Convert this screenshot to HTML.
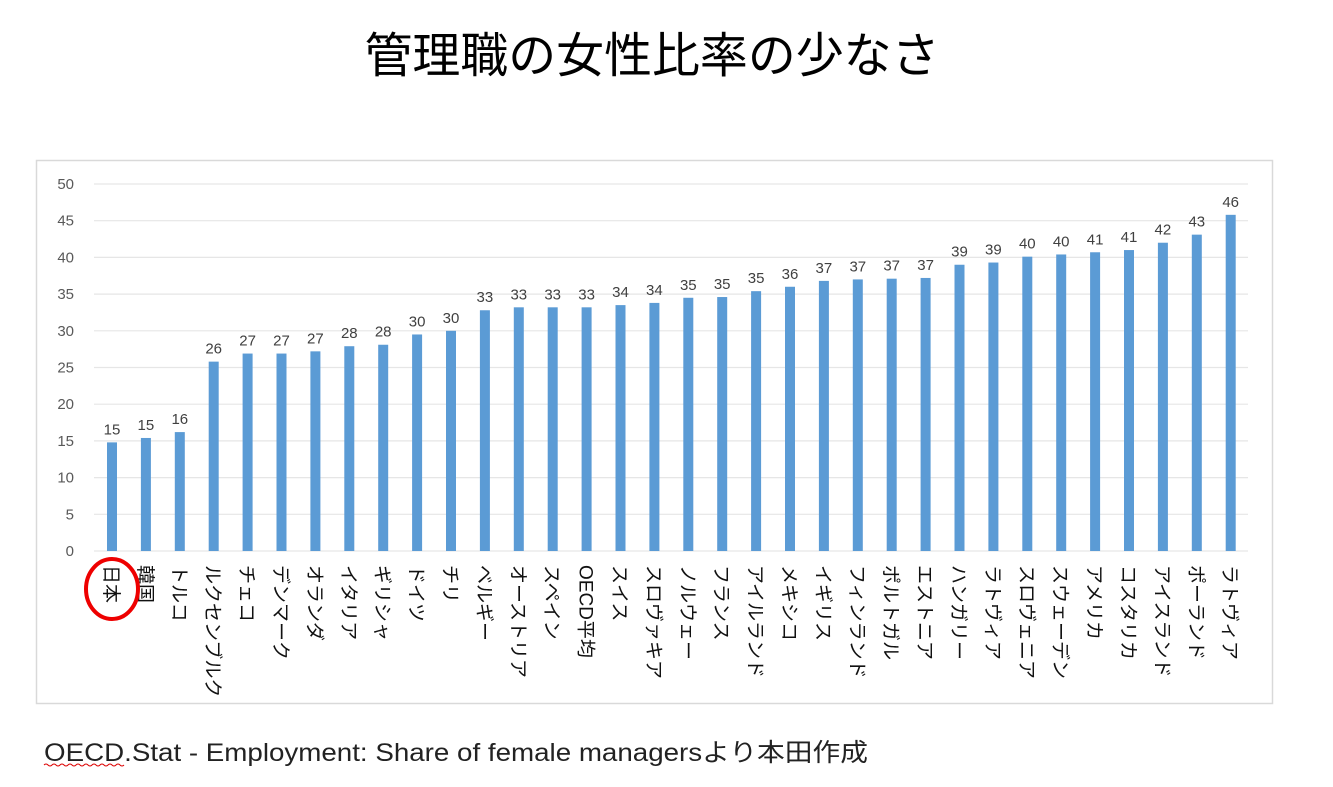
<!DOCTYPE html>
<html><head><meta charset="utf-8"><style>
body{margin:0;width:1333px;height:782px;background:#fff;overflow:hidden;font-family:"Liberation Sans","Noto Sans CJK JP",sans-serif;}
</style></head><body>
<svg width="1333" height="782" xmlns="http://www.w3.org/2000/svg" font-family="Liberation Sans, Noto Sans CJK JP, sans-serif">
<text x="652" y="72" font-size="48" text-anchor="middle" fill="#000" textLength="575" lengthAdjust="spacingAndGlyphs">管理職の女性比率の少なさ</text>
<rect x="36.5" y="160.5" width="1236" height="543" fill="#fff" stroke="#d9d9d9" stroke-width="1.5"/>
<g id="grid" stroke="#e6e6e6" stroke-width="1.2"></g>
<g id="ylab" font-size="15" fill="#595959" text-anchor="end"></g>
<g id="bars"></g>
<text x="44" y="761" font-size="25" fill="#222" textLength="824" lengthAdjust="spacingAndGlyphs">OECD.Stat - Employment: Share of female managersより本田作成</text>
<path d="M44 765 q2 -2 4 0 t4 0 t4 0 t4 0 t4 0 t4 0 t4 0 t4 0 t4 0 t4 0 t4 0 t4 0 t4 0 t4 0 t4 0 t4 0 t4 0 t4 0 t4 0 t4 0" stroke="#d00" fill="none" stroke-width="1"/>
<ellipse cx="112" cy="589" rx="26" ry="30" fill="none" stroke="#e00" stroke-width="4"/>
</svg>
<script>
const names=["日本","韓国","トルコ","ルクセンブルク","チェコ","デンマーク","オランダ","イタリア","ギリシャ","ドイツ","チリ","ベルギー","オーストリア","スペイン","OECD平均","スイス","スロヴァキア","ノルウェー","フランス","アイルランド","メキシコ","イギリス","フィンランド","ポルトガル","エストニア","ハンガリー","ラトヴィア","スロヴェニア","スウェーデン","アメリカ","コスタリカ","アイスランド","ポーランド","ラトヴィア"];
const vals=[14.8,15.4,16.2,25.8,26.9,26.9,27.2,27.9,28.1,29.5,30.0,32.8,33.2,33.2,33.2,33.5,33.8,34.5,34.6,35.4,36.0,36.8,37.0,37.1,37.2,39.0,39.3,40.1,40.4,40.7,41.0,42.0,43.1,45.8];
const ns="http://www.w3.org/2000/svg";
function el(t,a,p,txt){const e=document.createElementNS(ns,t);for(const k in a)e.setAttribute(k,a[k]);if(txt!==undefined)e.textContent=txt;document.getElementById(p).appendChild(e);return e;}
const y0=551,k=7.34;
for(let v=0;v<=50;v+=5){const y=y0-v*k;el("line",{x1:94,x2:1248,y1:y,y2:y},"grid");el("text",{x:74,y:y+5},"ylab",v);}
vals.forEach((v,i)=>{const cx=112+i*33.9;const top=y0-v*k;
el("rect",{x:cx-5,y:top,width:10,height:v*k,fill:"#5b9bd5"},"bars");
el("text",{x:cx,y:top-8,"font-size":15,fill:"#404040","text-anchor":"middle"},"bars",Math.round(v));
el("text",{x:0,y:0,"font-size":19,fill:"#111",transform:`translate(${cx-7},565) rotate(90)`},"bars",names[i]);});
</script>
</body></html>
